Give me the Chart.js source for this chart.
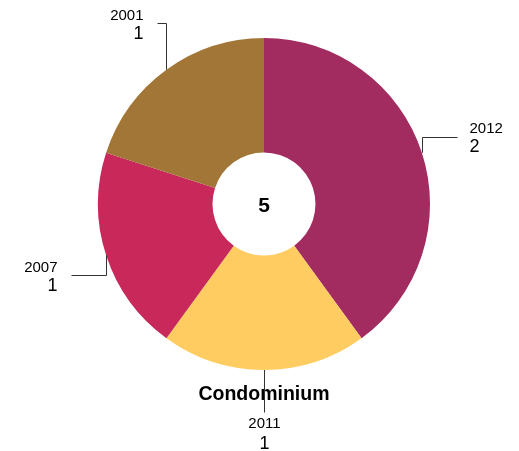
<!DOCTYPE html>
<html>
<head>
<meta charset="utf-8">
<script src="https://cdn.jsdelivr.net/npm/chart.js@4"></script>
<style>
  html, body { margin: 0; padding: 0; background: #fff; }
  #grafico { display: block; }
</style>
</head>
<body>
<canvas id="grafico" width="519" height="451"></canvas>
<script>
var anos = ["2012", "2011", "2007", "2001"];
var valores = [2, 1, 1, 1];
var cores = ["#A22B5F", "#FECC60", "#C9295A", "#A27636"];
var titulo = "Condominium";

// chamadas: dy vertical a partir do arco, dx horizontal depois do cotovelo
var chamadas = [
  { dy: -16, dx: 35 },
  { dy: 42, dx: 0 },
  { dy: 20, dx: -35 },
  { dy: -47, dx: -9 }
];

var rotulos = {
  id: "rotulos",
  afterDraw: function (chart) {
    var c = chart.ctx;
    var meta = chart.getDatasetMeta(0);
    var total = valores.reduce(function (a, b) { return a + b; }, 0);
    var cx = meta.data[0].x, cy = meta.data[0].y;

    c.save();
    c.fillStyle = "#000";
    c.textAlign = "center";
    c.textBaseline = "alphabetic";
    c.font = "bold 21px 'Liberation Sans', Arial, sans-serif";
    c.fillText(String(total), cx, cy + 8);

    c.font = "bold 19.5px 'Liberation Sans', Arial, sans-serif";
    c.fillText(titulo, cx, 400);

    c.strokeStyle = "#333";
    c.lineWidth = 1;
    meta.data.forEach(function (arc, i) {
      var p = arc.getProps(["x", "y", "startAngle", "endAngle", "outerRadius"], true);
      var a = (p.startAngle + p.endAngle) / 2;
      var x0 = Math.round(p.x + Math.cos(a) * p.outerRadius) + 0.5;
      var y0 = p.y + Math.sin(a) * p.outerRadius;
      var y1 = Math.round(y0 + chamadas[i].dy) + 0.5;
      var x1 = x0 + chamadas[i].dx;
      c.beginPath();
      c.moveTo(x0, y0);
      c.lineTo(x0, y1);
      c.lineTo(x1, y1);
      c.stroke();

      var tx, yl, yv;
      if (chamadas[i].dx > 0) {
        c.textAlign = "left"; tx = x1 + 12; yl = y1 - 5; yv = y1 + 14;
      } else if (chamadas[i].dx < 0) {
        c.textAlign = "right"; tx = x1 - 14; yl = y1 - 4; yv = y1 + 15;
      } else {
        c.textAlign = "center"; tx = x1; yl = y1 + 15; yv = y1 + 36;
      }
      c.font = "15px 'Liberation Sans', Arial, sans-serif";
      c.fillText(anos[i], tx, yl);
      c.font = "18px 'Liberation Sans', Arial, sans-serif";
      c.fillText(String(valores[i]), tx, yv);
    });
    c.restore();
  }
};

new Chart(document.getElementById("grafico"), {
  type: "doughnut",
  data: {
    labels: anos,
    datasets: [
      {
        label: titulo,
        data: valores,
        backgroundColor: cores,
        borderWidth: 0
      }
    ]
  },
  options: {
    responsive: false,
    animation: false,
    cutout: "31%",
    layout: { padding: { left: 98, right: 89, top: 38, bottom: 81 } },
    plugins: {
      legend: { display: false },
      tooltip: { enabled: false }
    }
  },
  plugins: [rotulos]
});
</script>
</body>
</html>
